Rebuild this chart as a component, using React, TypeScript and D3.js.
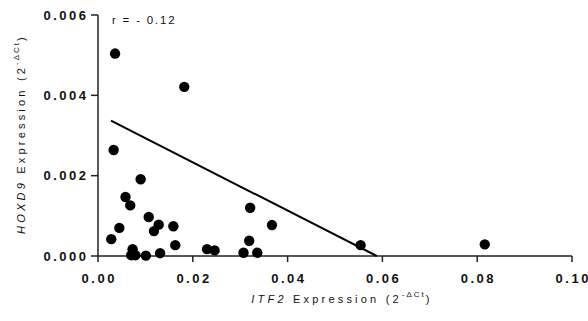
import React from "react";
import * as d3 from "d3";

const itf2 = [0.0036, 0.0182, 0.0033, 0.009, 0.0058, 0.0068, 0.0107, 0.0128, 0.0118, 0.0045, 0.0028, 0.0159, 0.0163, 0.0073, 0.007, 0.0079, 0.0101, 0.0131, 0.023, 0.0246, 0.0321, 0.0319, 0.0307, 0.0336, 0.0367, 0.0554, 0.0816];
const hoxd9 = [0.00504, 0.00421, 0.00264, 0.00191, 0.00147, 0.00126, 0.00097, 0.00078, 0.00062, 0.0007, 0.00042, 0.00074, 0.00027, 0.00017, 0.00002, 0.00002, 0.00001, 0.00007, 0.00017, 0.00014, 0.0012, 0.00038, 0.00008, 0.00008, 0.00077, 0.00027, 0.00029];
const fitX = [0.00274, 0.0588];
const fitY = [0.00337, 0.0];
const xTicks = [0, 0.02, 0.04, 0.06, 0.08, 0.1];
const yTicks = [0, 0.002, 0.004, 0.006];
const rLabel = "r = - 0.12";

const W = 588, H = 321;
const x = d3.scaleLinear().domain([0, 0.1]).range([98, 572]);
const y = d3.scaleLinear().domain([0, 0.006]).range([256, 15]);
const font = "'Liberation Sans', Arial, sans-serif";
const axisColor = "#222";

export default function App() {
  const line = d3.line<number>().x((d, i) => x(fitX[i])).y((d, i) => y(fitY[i]));
  return (
    <svg width={W} height={H} style={{ position: "absolute", left: 0, top: 0, background: "#fff" }} fontFamily={font}>
      {/* axes */}
      <line x1={x(0)} x2={x(0)} y1={y(0.006)} y2={y(0)} stroke={axisColor} strokeWidth={1.5} />
      <line x1={x(0)} x2={x(0.1)} y1={y(0)} y2={y(0)} stroke={axisColor} strokeWidth={1.5} />
      {yTicks.map((t) => (
        <g key={"y" + t}>
          <line x1={x(0) - 7} x2={x(0)} y1={y(t)} y2={y(t)} stroke={axisColor} strokeWidth={1.5} />
          <text x={x(0) - 12} y={y(t)} dy="0.36em" textAnchor="end" fontSize={13} fontWeight="bold" letterSpacing={2.5} dx={2.5} fill="#111">
            {d3.format(".3f")(t)}
          </text>
        </g>
      ))}
      {xTicks.map((t) => (
        <g key={"x" + t}>
          <line x1={x(t)} x2={x(t)} y1={y(0)} y2={y(0) + 6} stroke={axisColor} strokeWidth={1.5} />
          <text x={x(t) + 1.25} y={283} textAnchor="middle" fontSize={13} fontWeight="bold" letterSpacing={2.5} fill="#111">
            {d3.format(".2f")(t)}
          </text>
        </g>
      ))}
      {/* fit line */}
      <path d={line(fitX) || ""} fill="none" stroke="#000" strokeWidth={2} />
      {/* points */}
      {itf2.map((v, i) => (
        <circle key={i} cx={x(v)} cy={y(hoxd9[i])} r={5.2} fill="#000" />
      ))}
      {/* r label */}
      <text x={112} y={24} fontSize={11.5} letterSpacing={1.8} fill="#111">{rLabel}</text>
      {/* x title */}
      <text x={342} y={303} textAnchor="middle" fontSize={11} letterSpacing={3.2} fill="#111">
        <tspan fontStyle="italic">ITF2</tspan>
        <tspan> Expression (2</tspan>
        <tspan fontSize={8} dy={-6} letterSpacing={2}>-ΔCt</tspan>
        <tspan dy={6}>)</tspan>
      </text>
      {/* y title */}
      <text transform="translate(25,134) rotate(-90)" textAnchor="middle" fontSize={11} letterSpacing={3.2} fill="#111">
        <tspan fontStyle="italic">HOXD9</tspan>
        <tspan> Expression (2</tspan>
        <tspan fontSize={8} dy={-6} letterSpacing={2}>-ΔCt</tspan>
        <tspan dy={6}>)</tspan>
      </text>
    </svg>
  );
}
